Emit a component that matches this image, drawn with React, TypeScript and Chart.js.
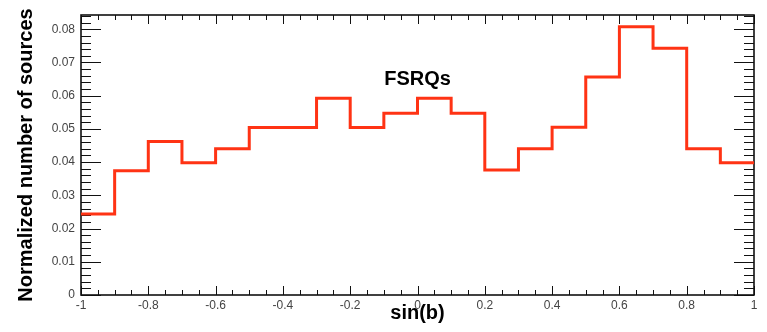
import React, { useEffect, useRef } from 'react';
import { Chart, registerables } from 'chart.js';

Chart.register(...registerables);

// ---- data ----
const binStarts = [-1, -0.9, -0.8, -0.7, -0.6, -0.5, -0.4, -0.3, -0.2, -0.1, 0, 0.1, 0.2, 0.3, 0.4, 0.5, 0.6, 0.7, 0.8, 0.9];
const binEnd = 1;
const fractions = [0.0244, 0.0374, 0.0462, 0.0398, 0.044, 0.0504, 0.0504, 0.0592, 0.0504, 0.0547, 0.0592, 0.0547, 0.0376, 0.044, 0.0505, 0.0656, 0.0808, 0.0743, 0.044, 0.0398];
const xTickValues = [-1, -0.8, -0.6, -0.4, -0.2, 0, 0.2, 0.4, 0.6, 0.8, 1];
const xTickLabels = ['-1', '-0.8', '-0.6', '-0.4', '-0.2', '0', '0.2', '0.4', '0.6', '0.8', '1'];
const yTickValues = [0, 0.01, 0.02, 0.03, 0.04, 0.05, 0.06, 0.07, 0.08];
const yTickLabels = ['0', '0.01', '0.02', '0.03', '0.04', '0.05', '0.06', '0.07', '0.08'];
const xMin = -1;
const xMax = 1;
const yMin = 0;
const yMax = 0.0843;
const xMinorDivisions = 4;
const yMinorDivisions = 5;
const seriesLabel = 'FSRQs';
const seriesLabelAt = { x: 0, y: 0.0648 };
const xTitle = 'sin(b)';
const yTitle = 'Normalized number of sources';

const FONT = "'Liberation Sans', Arial, Helvetica, sans-serif";
const LINE_COLOR = '#ff3314';

function minorTicks(values: number[], div: number): number[] {
  const out: number[] = [];
  for (let i = 0; i < values.length - 1; i++) {
    const a = values[i];
    const b = values[i + 1];
    for (let k = 1; k < div; k++) out.push(a + ((b - a) * k) / div);
  }
  const last = values[values.length - 1];
  const step = (values[1] - values[0]) / div;
  return out.concat([last + step, last + 2 * step, last + 3 * step, last + 4 * step]);
}

const framePlugin = {
  id: 'rootFrame',
  beforeDatasetsDraw(chart: any) {
    const { ctx, chartArea, scales } = chart;
    const { left, right, top, bottom } = chartArea;
    const xs = scales.x;
    const ys = scales.y;
    ctx.save();
    ctx.strokeStyle = '#111';
    ctx.lineWidth = 1;
    ctx.beginPath();
    const xMinor = minorTicks(xTickValues, xMinorDivisions).filter((v) => v > xMin && v < xMax);
    for (const v of xTickValues) {
      const px = Math.round(xs.getPixelForValue(v)) + 0.5;
      ctx.moveTo(px, bottom);
      ctx.lineTo(px, bottom - 9);
      ctx.moveTo(px, top);
      ctx.lineTo(px, top + 9);
    }
    for (const v of xMinor) {
      const px = Math.round(xs.getPixelForValue(v)) + 0.5;
      ctx.moveTo(px, bottom);
      ctx.lineTo(px, bottom - 5);
      ctx.moveTo(px, top);
      ctx.lineTo(px, top + 5);
    }
    const yMinor = minorTicks(yTickValues, yMinorDivisions).filter((v) => v > yMin && v < yMax);
    for (const v of yTickValues) {
      const py = Math.round(ys.getPixelForValue(v)) + 0.5;
      ctx.moveTo(left, py);
      ctx.lineTo(left + 20, py);
      ctx.moveTo(right, py);
      ctx.lineTo(right - 20, py);
    }
    for (const v of yMinor) {
      const py = Math.round(ys.getPixelForValue(v)) + 0.5;
      ctx.moveTo(left, py);
      ctx.lineTo(left + 10, py);
      ctx.moveTo(right, py);
      ctx.lineTo(right - 10, py);
    }
    ctx.stroke();
    ctx.lineWidth = 1.6;
    ctx.strokeRect(left, top, right - left, bottom - top);
    ctx.restore();
  },
  afterDatasetsDraw(chart: any) {
    const { ctx, scales } = chart;
    ctx.save();
    ctx.fillStyle = '#000';
    ctx.font = `bold 20px ${FONT}`;
    ctx.textAlign = 'center';
    ctx.textBaseline = 'middle';
    ctx.fillText(seriesLabel, scales.x.getPixelForValue(seriesLabelAt.x), scales.y.getPixelForValue(seriesLabelAt.y));
    ctx.restore();
  },
};

export default function App() {
  const canvasRef = useRef<HTMLCanvasElement | null>(null);

  useEffect(() => {
    if (!canvasRef.current) return;
    const points = binStarts.map((x, i) => ({ x, y: fractions[i] }));
    points.push({ x: binEnd, y: fractions[fractions.length - 1] });

    const chart = new Chart(canvasRef.current, {
      type: 'line',
      data: {
        datasets: [
          {
            label: seriesLabel,
            data: points,
            stepped: 'before',
            borderColor: LINE_COLOR,
            borderWidth: 3,
            pointRadius: 0,
            fill: false,
            clip: 4,
          } as any,
        ],
      },
      plugins: [framePlugin],
      options: {
        animation: false,
        responsive: false,
        events: [],
        layout: { padding: { top: 15, right: 13, left: 0, bottom: 0 } },
        plugins: {
          legend: { display: false },
          tooltip: { enabled: false },
          title: { display: false },
        },
        scales: {
          x: {
            type: 'linear',
            min: xMin,
            max: xMax,
            grid: { display: false, drawTicks: false },
            border: { display: false },
            afterBuildTicks: (s: any) => {
              s.ticks = xTickValues.map((v) => ({ value: v }));
            },
            afterFit: (s: any) => {
              s.height = 37;
            },
            ticks: {
              autoSkip: false,
              maxRotation: 0,
              padding: 3,
              color: '#444',
              font: { family: FONT, size: 12 },
              callback: (v: any) => {
                const i = xTickValues.findIndex((t) => Math.abs(t - Number(v)) < 1e-9);
                return i >= 0 ? xTickLabels[i] : '';
              },
            },
            title: {
              display: true,
              text: xTitle,
              color: '#000',
              font: { family: FONT, size: 20, weight: 'bold' },
              padding: { top: 0, bottom: 7 },
            },
          },
          y: {
            type: 'linear',
            min: yMin,
            max: yMax,
            grid: { display: false, drawTicks: false },
            border: { display: false },
            afterBuildTicks: (s: any) => {
              s.ticks = yTickValues.map((v) => ({ value: v }));
            },
            afterFit: (s: any) => {
              s.width = 81;
            },
            ticks: {
              autoSkip: false,
              padding: 6,
              color: '#444',
              font: { family: FONT, size: 12 },
              callback: (v: any) => {
                const i = yTickValues.findIndex((t) => Math.abs(t - Number(v)) < 1e-9);
                return i >= 0 ? yTickLabels[i] : '';
              },
            },
            title: {
              display: true,
              text: yTitle,
              color: '#000',
              font: { family: FONT, size: 20, weight: 'bold' },
              padding: { top: 14, bottom: 0 },
            },
          },
        },
      } as any,
    });
    return () => chart.destroy();
  }, []);

  return (
    <div style={{ position: 'fixed', left: 0, top: 0, width: 767, height: 332, background: '#fff' }}>
      <canvas ref={canvasRef} width={767} height={332} style={{ display: 'block', width: 767, height: 332 }} />
    </div>
  );
}
